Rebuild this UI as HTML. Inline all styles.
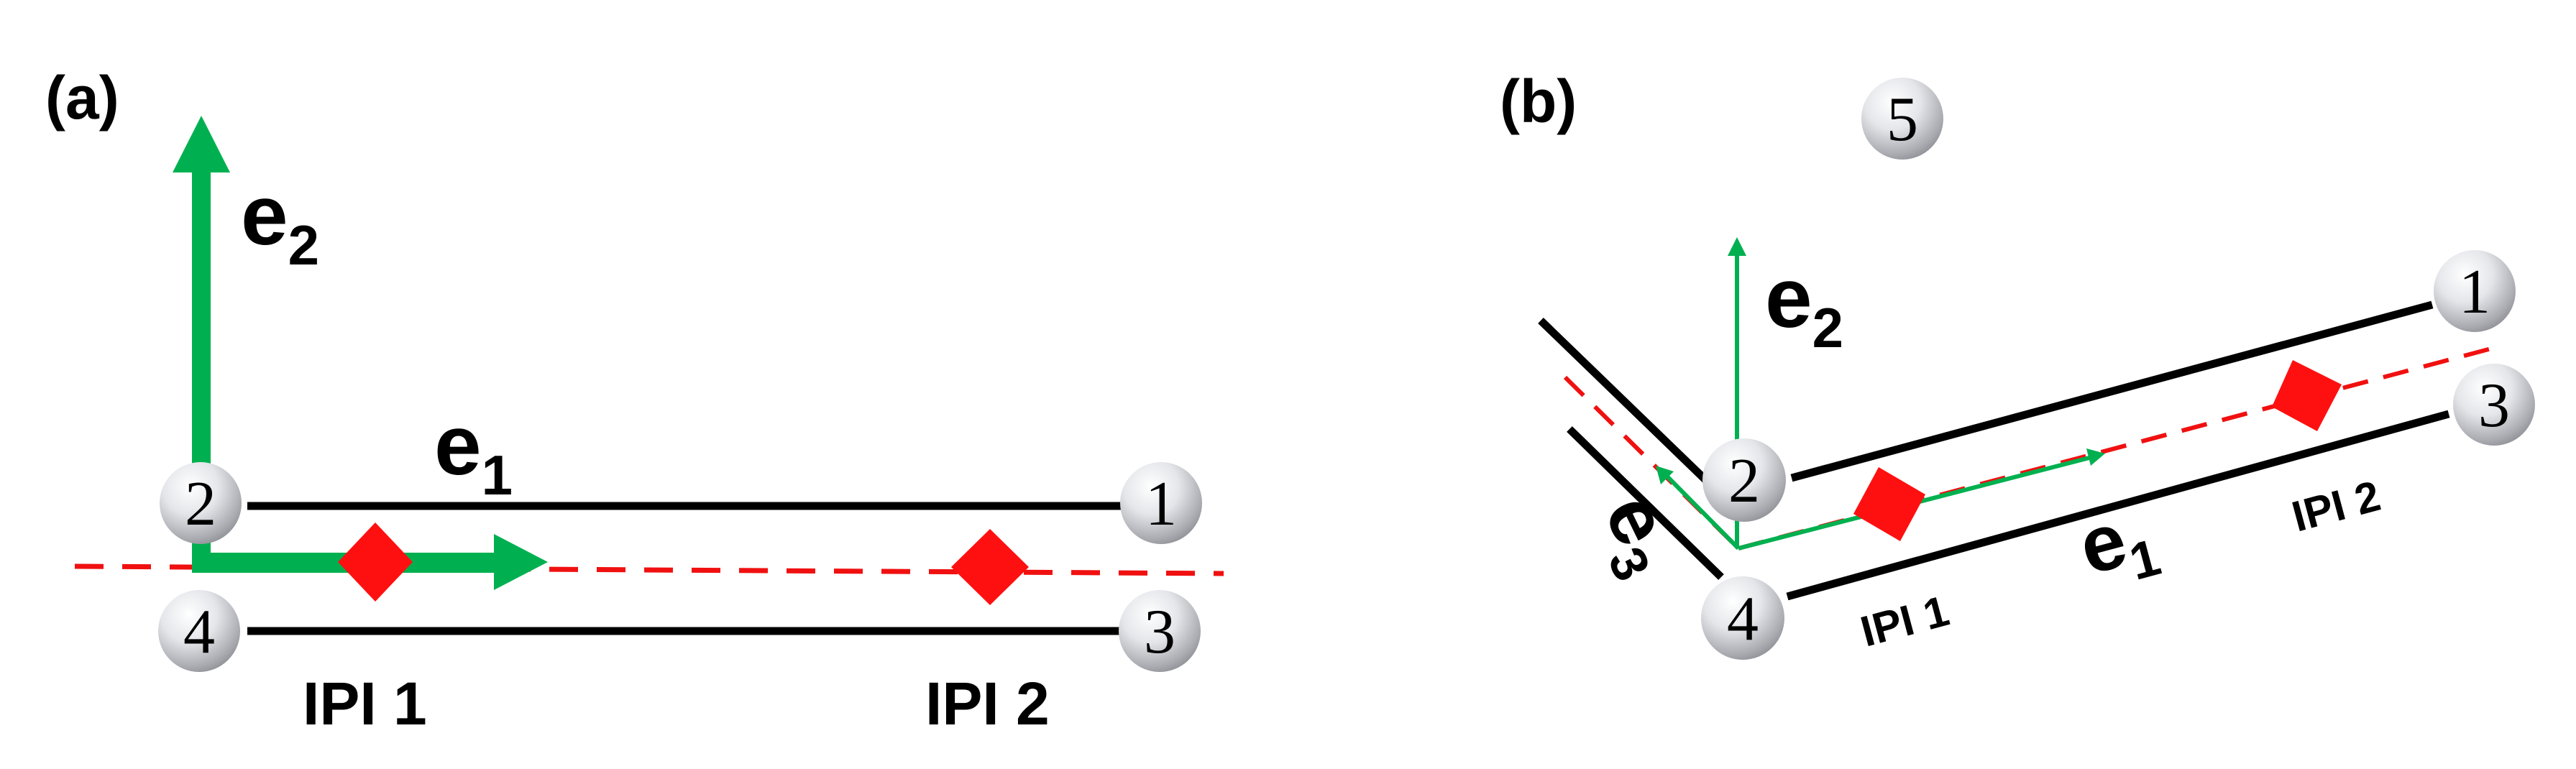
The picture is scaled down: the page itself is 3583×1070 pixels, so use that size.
<!DOCTYPE html>
<html><head><meta charset="utf-8"><style>
html,body{margin:0;padding:0;background:#fff;}
svg{display:block;}
text{font-family:"Liberation Sans",sans-serif;font-weight:bold;fill:#000;}
.n{font-family:"Liberation Serif",serif;font-weight:normal;font-size:88px;}
</style></head><body>
<svg width="3583" height="1070" viewBox="0 0 3583 1070" xmlns="http://www.w3.org/2000/svg">
<defs>
<radialGradient id="g" cx="0.38" cy="0.3" r="0.75">
<stop offset="0" stop-color="#ffffff"/>
<stop offset="0.45" stop-color="#e4e6ea"/>
<stop offset="0.85" stop-color="#a9abb0"/>
<stop offset="1" stop-color="#8e9096"/>
</radialGradient>
</defs>

<!-- Panel (a) -->
<text x="63" y="165" font-size="84">(a)</text>
<line x1="104" y1="788" x2="1702" y2="798" stroke="#f01010" stroke-width="7" stroke-dasharray="40,26"/>
<line x1="344" y1="704" x2="1560" y2="704" stroke="#000" stroke-width="11"/>
<line x1="344" y1="878" x2="1560" y2="878" stroke="#000" stroke-width="11"/>
<rect x="267" y="235" width="26" height="560" fill="#00b050"/>
<polygon points="280,161 240,240 320,240" fill="#00b050"/>
<rect x="267" y="769" width="425" height="28" fill="#00b050"/>
<polygon points="762,782 687,743 687,821" fill="#00b050"/>
<polygon points="522,727 574,782 522,837 470,782" fill="#ff1010"/>
<polygon points="1377,736 1431,789 1377,842 1323,789" fill="#ff1010"/>
<text x="335" y="340" font-size="118">e<tspan font-size="78" dy="28">2</tspan></text>
<text x="604" y="660" font-size="118">e<tspan font-size="78" dy="28">1</tspan></text>
<text x="421" y="1008" font-size="84">IPI 1</text>
<text x="1287" y="1008" font-size="84">IPI 2</text>
<circle cx="279" cy="700" r="57" fill="url(#g)"/>
<text class="n" x="279" y="730" text-anchor="middle">2</text>
<circle cx="1615" cy="700" r="57" fill="url(#g)"/>
<text class="n" x="1615" y="730" text-anchor="middle">1</text>
<circle cx="277" cy="878" r="57" fill="url(#g)"/>
<text class="n" x="277" y="908" text-anchor="middle">4</text>
<circle cx="1613" cy="878" r="57" fill="url(#g)"/>
<text class="n" x="1613" y="908" text-anchor="middle">3</text>

<!-- Panel (b) -->
<text x="2086" y="170" font-size="84">(b)</text>
<circle cx="2646" cy="165" r="57" fill="url(#g)"/>
<text class="n" x="2646" y="195" text-anchor="middle">5</text>
<line x1="2143" y1="446" x2="2385" y2="680" stroke="#000" stroke-width="11"/>
<line x1="2183" y1="597" x2="2394" y2="803" stroke="#000" stroke-width="11"/>
<line x1="2492" y1="665" x2="3383" y2="424" stroke="#000" stroke-width="11"/>
<line x1="2486" y1="830" x2="3406" y2="576" stroke="#000" stroke-width="11"/>
<line x1="2177" y1="525" x2="2418" y2="763" stroke="#f01010" stroke-width="6" stroke-dasharray="36,22"/>
<line x1="2418" y1="763" x2="3469" y2="484" stroke="#f01010" stroke-width="6" stroke-dasharray="36,22"/>
<line x1="2416" y1="763" x2="2416" y2="350" stroke="#00b050" stroke-width="6"/>
<polygon points="2416,330 2403,356 2429,356" fill="#00b050"/>
<line x1="2418" y1="763" x2="2910" y2="636" stroke="#00b050" stroke-width="6"/>
<polygon points="2928,631 2902,624 2908,648" fill="#00b050"/>
<line x1="2418" y1="763" x2="2316" y2="660" stroke="#00b050" stroke-width="6"/>
<polygon points="2303,648 2310,674 2328,656" fill="#00b050"/>
<polygon points="2613,650 2678,688 2643,753 2578,715" fill="#ff1010"/>
<polygon points="3189,501 3257,535 3223,600 3160,566" fill="#ff1010"/>
<text x="2455" y="455" font-size="118">e<tspan font-size="78" dy="28">2</tspan></text>
<text transform="translate(2230,712) rotate(64)" font-size="110">e<tspan font-size="72" dy="24">3</tspan></text>
<text transform="translate(2905,800) rotate(-15)" font-size="110">e<tspan font-size="72" dy="24">1</tspan></text>
<text transform="translate(2595,900) rotate(-15)" font-size="60">IPI 1</text>
<text transform="translate(3195,740) rotate(-15)" font-size="60">IPI 2</text>
<circle cx="2426" cy="668" r="58" fill="url(#g)"/>
<text class="n" x="2426" y="698" text-anchor="middle">2</text>
<circle cx="2424" cy="860" r="58" fill="url(#g)"/>
<text class="n" x="2424" y="890" text-anchor="middle">4</text>
<circle cx="3442" cy="405" r="57" fill="url(#g)"/>
<text class="n" x="3442" y="435" text-anchor="middle">1</text>
<circle cx="3469" cy="563" r="57" fill="url(#g)"/>
<text class="n" x="3469" y="593" text-anchor="middle">3</text>
</svg>
</body></html>
